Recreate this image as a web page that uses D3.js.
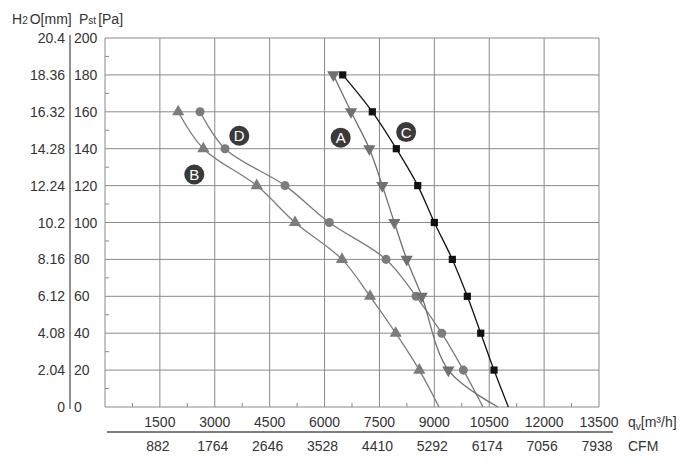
<!DOCTYPE html>
<html>
<head>
<meta charset="utf-8">
<script src="https://cdn.jsdelivr.net/npm/d3@7"></script>
<style>
  body { margin: 0; background: #fff; }
  text { font-family: "Liberation Sans", Arial, sans-serif; fill: #333; }
</style>
</head>
<body>
<svg id="chart" width="700" height="467"></svg>
<script>
// Axis ticks
var qvTicks = [1500, 3000, 4500, 6000, 7500, 9000, 10500, 12000, 13500];
var cfmLabels = ["882", "1764", "2646", "3528", "4410", "5292", "6174", "7056", "7938"];
var paTicks = [0, 20, 40, 60, 80, 100, 120, 140, 160, 180, 200];
var mmLabels = ["0", "2.04", "4.08", "6.12", "8.16", "10.2", "12.24", "14.28", "16.32", "18.36", "20.4"];

// Curves: flow [m3/h] at each static pressure [Pa]
var curveA = [[6240, 180], [6723, 160], [7224, 140], [7579, 120], [7907, 100], [8246, 80], [8656, 60], [9383, 20], [10741, 0]];
var curveB = [[2000, 160], [2687, 140], [4146, 120], [5193, 100], [6477, 80], [7243, 60], [7945, 40], [8590, 20], [9128, 0]];
var curveC = [[6496, 180], [7305, 160], [7961, 140], [8546, 120], [9000, 100], [9492, 80], [9902, 60], [10268, 40], [10631, 20], [11022, 0]];
var curveD = [[2597, 160], [3280, 140], [4920, 120], [6131, 100], [7680, 80], [8500, 60], [9202, 40], [9793, 20], [10331, 0]];

// Letter badges
var badges = [["A", 6440, 146], ["B", 2440, 126], ["C", 8230, 149], ["D", 3670, 147]];

var svg = d3.select('#chart');

var x = d3.scaleLinear().domain([0, 13500]).range([105, 599]);
var y = d3.scaleLinear().domain([0, 200]).range([407, 38]);

var gridColor = '#8a8a8a';
var fs = '14px';

// grid
svg.append('g').selectAll('line.v')
  .data(qvTicks)
  .enter().append('line')
  .attr('x1', function (d) { return x(d); })
  .attr('x2', function (d) { return x(d); })
  .attr('y1', y(0)).attr('y2', y(200))
  .attr('stroke', gridColor).attr('stroke-width', 1);

svg.append('g').selectAll('line.h')
  .data(paTicks)
  .enter().append('line')
  .attr('x1', x(0)).attr('x2', x(13500))
  .attr('y1', function (d) { return y(d); })
  .attr('y2', function (d) { return y(d); })
  .attr('stroke', gridColor).attr('stroke-width', 1);

svg.append('line')
  .attr('x1', x(0)).attr('x2', x(0))
  .attr('y1', y(0)).attr('y2', y(200))
  .attr('stroke', gridColor).attr('stroke-width', 1);

// minor ticks
svg.append('g').selectAll('line')
  .data(d3.range(750, 13500, 1500))
  .enter().append('line')
  .attr('x1', function (d) { return x(d); })
  .attr('x2', function (d) { return x(d); })
  .attr('y1', y(0)).attr('y2', y(0) - 4)
  .attr('stroke', gridColor);

svg.append('g').selectAll('line')
  .data(d3.range(10, 200, 20))
  .enter().append('line')
  .attr('x1', x(0)).attr('x2', x(0) + 4)
  .attr('y1', function (d) { return y(d); })
  .attr('y2', function (d) { return y(d); })
  .attr('stroke', gridColor);

// left axis labels
svg.append('line')
  .attr('x1', 70).attr('x2', 70)
  .attr('y1', 35).attr('y2', 409)
  .attr('stroke', '#555').attr('stroke-width', 1.3);

svg.append('g').selectAll('text')
  .data(paTicks)
  .enter().append('text')
  .attr('x', 74)
  .attr('y', function (d) { return y(d) + 5; })
  .style('font-size', fs)
  .text(function (d) { return d; });

svg.append('g').selectAll('text')
  .data(mmLabels)
  .enter().append('text')
  .attr('x', 65)
  .attr('y', function (d, i) { return y(paTicks[i]) + 5; })
  .attr('text-anchor', 'end')
  .style('font-size', fs)
  .text(function (d) { return d; });

var h1 = svg.append('text').attr('x', 12).attr('y', 24).style('font-size', fs);
h1.append('tspan').text('H');
h1.append('tspan').style('font-size', '10px').text('2');
h1.append('tspan').attr('dx', 2).text('O[mm]');

var h2 = svg.append('text').attr('x', 79).attr('y', 24).style('font-size', fs);
h2.append('tspan').text('P');
h2.append('tspan').style('font-size', '10px').text('st');
h2.append('tspan').attr('dx', 2).text('[Pa]');

// bottom axis labels
svg.append('g').selectAll('text')
  .data(qvTicks)
  .enter().append('text')
  .attr('x', function (d) { return x(d); })
  .attr('y', 427)
  .attr('text-anchor', 'middle')
  .style('font-size', fs)
  .text(function (d) { return d; });

svg.append('line')
  .attr('x1', 107).attr('x2', 613)
  .attr('y1', 432).attr('y2', 432)
  .attr('stroke', '#555').attr('stroke-width', 1.3);

svg.append('g').selectAll('text')
  .data(cfmLabels)
  .enter().append('text')
  .attr('x', function (d, i) { return x(qvTicks[i]) - 2; })
  .attr('y', 451)
  .attr('text-anchor', 'middle')
  .style('font-size', fs)
  .text(function (d) { return d; });

var q = svg.append('text').attr('x', 628).attr('y', 427).style('font-size', fs);
q.append('tspan').text('q');
q.append('tspan').attr('dy', 3).style('font-size', '10px').text('v');
q.append('tspan').attr('dy', -3).text('[m³/h]');

svg.append('text').attr('x', 628).attr('y', 451).style('font-size', fs).text('CFM');

// curves
var line = d3.line()
  .x(function (d) { return x(d[0]); })
  .y(function (d) { return y(d[1]); })
  .curve(d3.curveCatmullRom.alpha(0.5));

var series = [
  { data: curveB, color: '#7c7c7c', shape: d3.symbolTriangle, size: 65, rot: 0 },
  { data: curveD, color: '#7c7c7c', shape: d3.symbolCircle, size: 65, rot: 0 },
  { data: curveA, color: '#707070', shape: d3.symbolTriangle, size: 65, rot: 180 },
  { data: curveC, color: '#111', shape: d3.symbolSquare, size: 52, rot: 0 }
];

series.forEach(function (s) {
  svg.append('path')
    .datum(s.data)
    .attr('d', line)
    .attr('fill', 'none')
    .attr('stroke', s.color)
    .attr('stroke-width', 1.3);

  svg.append('g').selectAll('path')
    .data(s.data.filter(function (d) { return d[1] > 0; }))
    .enter().append('path')
    .attr('d', d3.symbol().type(s.shape).size(s.size))
    .attr('transform', function (d) {
      return 'translate(' + x(d[0]) + ',' + y(d[1]) + ') rotate(' + s.rot + ')';
    })
    .attr('fill', s.color);
});

// badges
var b = svg.append('g').selectAll('g')
  .data(badges)
  .enter().append('g')
  .attr('transform', function (d) { return 'translate(' + x(d[1]) + ',' + y(d[2]) + ')'; });

b.append('circle').attr('r', 10).attr('fill', '#3a3a3a');
b.append('text')
  .attr('text-anchor', 'middle')
  .attr('y', 5.5)
  .style('font-size', '15px')
  .style('fill', '#fff')
  .text(function (d) { return d[0]; });
</script>
</body>
</html>
